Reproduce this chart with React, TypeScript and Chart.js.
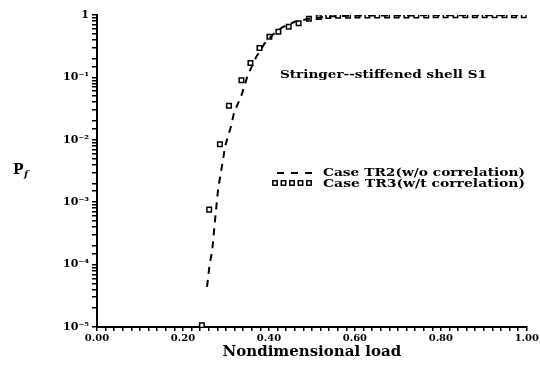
import React, { useEffect, useRef } from 'react';
import { Chart, registerables } from 'chart.js';

Chart.register(...registerables);

// TR3 (with correlation) – square markers
const tr3Load = [
  0.244, 0.261, 0.286, 0.307, 0.336, 0.357, 0.378, 0.401, 0.422, 0.446, 0.469, 0.493, 0.516,
  0.538, 0.561, 0.584, 0.606, 0.629, 0.652, 0.675, 0.697, 0.72, 0.743, 0.766, 0.788, 0.811,
  0.834, 0.857, 0.879, 0.902, 0.925, 0.948, 0.97, 0.993,
];
const tr3Prob = [
  1.07e-5, 7.6e-4, 8.5e-3, 0.035, 0.09, 0.17, 0.295, 0.45, 0.54, 0.65, 0.74, 0.87, 0.93,
  0.96, 0.97, 0.975, 0.98, 0.98, 0.982, 0.983, 0.985, 0.985, 0.986, 0.986, 0.987, 0.987,
  0.988, 0.988, 0.988, 0.989, 0.989, 0.989, 0.99, 0.99,
];

// TR2 (without correlation) – dashed line
const tr2Load = [
  0.256, 0.262, 0.268, 0.275, 0.282, 0.293, 0.298, 0.312, 0.319, 0.336, 0.35, 0.37, 0.39,
  0.41, 0.43, 0.46, 0.5, 0.55, 0.6, 0.7, 0.8, 0.9, 0.99,
];
const tr2Prob = [
  4.4e-5, 1.0e-4, 1.66e-4, 5.5e-4, 1.66e-3, 4.7e-3, 7.9e-3, 0.0166, 0.0275, 0.051, 0.105, 0.21,
  0.35, 0.49, 0.63, 0.78, 0.89, 0.955, 0.977, 0.985, 0.988, 0.99, 0.99,
];

const xTickLabels = ['0.00', '0.20', '0.40', '0.60', '0.80', '1.00'];
const yTickLabels = ['10\u207B\u2075', '10\u207B\u2074', '10\u207B\u00B3', '10\u207B\u00B2', '10\u207B\u00B9', '1'];
const xAxisTitle = 'Nondimensional load';
const yAxisTitleMain = 'P';
const yAxisTitleSub = 'f';
const chartTitle = 'Stringer--stiffened shell S1';
const legendLabels = ['Case TR2(w/o correlation)', 'Case TR3(w/t correlation)'];

const FONT = "'DejaVu Serif', serif";

function drawFitted(ctx: CanvasRenderingContext2D, text: string, x: number, y: number, width: number, size: number) {
  ctx.save();
  ctx.font = `bold ${size}px ${FONT}`;
  const w = ctx.measureText(text).width;
  ctx.translate(x, y);
  ctx.scale(width / w, 1);
  ctx.textAlign = 'left';
  ctx.textBaseline = 'middle';
  ctx.fillStyle = '#000';
  ctx.fillText(text, 0, 0);
  ctx.restore();
}

const annotations = {
  id: 'annotations',
  afterDraw(chart: any) {
    const ctx: CanvasRenderingContext2D = chart.ctx;
    const { left, top } = chart.chartArea;
    // Y axis title (horizontal)
    ctx.save();
    ctx.fillStyle = '#000';
    ctx.font = `bold 14px ${FONT}`;
    ctx.textBaseline = 'middle';
    ctx.textAlign = 'left';
    ctx.fillText(yAxisTitleMain, left - 84, top + 155);
    ctx.font = `bold italic 10px ${FONT}`;
    ctx.fillText(yAxisTitleSub, left - 73, top + 159);
    ctx.restore();

    // Title inside the plot
    drawFitted(ctx, chartTitle, left + 183, top + 60, 207, 11);

    // Legend
    const lx = left + 180;
    const ly1 = top + 158;
    const ly2 = top + 168;
    ctx.save();
    ctx.strokeStyle = '#000';
    ctx.lineWidth = 2;
    ctx.setLineDash([7, 7]);
    ctx.beginPath();
    ctx.moveTo(lx, ly1);
    ctx.lineTo(lx + 36, ly1);
    ctx.stroke();
    ctx.setLineDash([]);
    ctx.lineWidth = 1.5;
    for (let i = 0; i < 5; i++) {
      ctx.strokeRect(lx - 2 + i * 8.5 - 2.2, ly2 - 2.2, 4.4, 4.4);
    }
    ctx.restore();
    drawFitted(ctx, legendLabels[0], lx + 46, ly1, 202, 11);
    drawFitted(ctx, legendLabels[1], lx + 46, ly2 + 1, 202, 11);
  },
};

export default function App() {
  const ref = useRef<HTMLCanvasElement | null>(null);
  useEffect(() => {
    if (!ref.current) return;
    const chart = new Chart(ref.current, {
      type: 'scatter',
      data: {
        datasets: [
          {
            label: legendLabels[0],
            data: tr2Load.map((x, i) => ({ x, y: tr2Prob[i] })),
            showLine: true,
            borderColor: '#000',
            borderWidth: 2,
            borderDash: [7, 6],
            pointRadius: 0,
            fill: false,
            tension: 0,
          },
          {
            label: legendLabels[1],
            data: tr3Load.map((x, i) => ({ x, y: tr3Prob[i] })),
            showLine: false,
            pointStyle: 'rect',
            pointRadius: 3.2,
            borderColor: '#000',
            backgroundColor: '#fff',
            pointBorderWidth: 1.5,
          },
        ],
      },
      options: {
        responsive: false,
        animation: false,
        layout: { padding: { top: 15, right: 13, bottom: 0, left: 0 } },
        plugins: { legend: { display: false }, tooltip: { enabled: false } },
        scales: {
          x: {
            type: 'linear',
            min: 0,
            max: 1,
            afterFit(scale: any) {
              scale.height = 43;
            },
            border: { color: '#000', width: 2 },
            grid: { drawOnChartArea: false, drawTicks: true, tickLength: 4, color: '#000', lineWidth: 1.5 },
            ticks: {
              stepSize: 0.02,
              maxTicksLimit: 100,
              autoSkip: false,
              maxRotation: 0,
              padding: 1,
              color: '#000',
              font: { family: FONT, size: 10, weight: 'bold' },
              callback: (v: any) => {
                const i = Math.round(Number(v) / 0.2);
                return Math.abs(Number(v) - i * 0.2) < 1e-6 ? xTickLabels[i] : '';
              },
            },
            title: {
              display: true,
              text: xAxisTitle,
              color: '#000',
              font: { family: FONT, size: 15, weight: 'bold' },
              padding: { top: 0, bottom: 9 },
            },
          },
          y: {
            type: 'logarithmic',
            min: 1e-5,
            max: 1,
            afterFit(scale: any) {
              scale.width = 97;
            },
            border: { color: '#000', width: 2 },
            grid: { drawOnChartArea: false, drawTicks: true, tickLength: 5, color: '#000', lineWidth: 1.5 },
            ticks: {
              autoSkip: false,
              padding: 3,
              color: '#000',
              font: { family: FONT, size: 11, weight: 'bold' },
              callback: (v: any) => {
                const l = Math.log10(Number(v));
                const e = Math.round(l);
                return Math.abs(l - e) < 1e-6 ? yTickLabels[e + 5] : '';
              },
            },
          },
        },
      },
      plugins: [annotations],
    } as any);
    return () => chart.destroy();
  }, []);
  return (
    <div style={{ position: 'fixed', left: 0, top: 0, width: 540, height: 370, background: '#fff' }}>
      <canvas ref={ref} width={540} height={370} />
    </div>
  );
}
